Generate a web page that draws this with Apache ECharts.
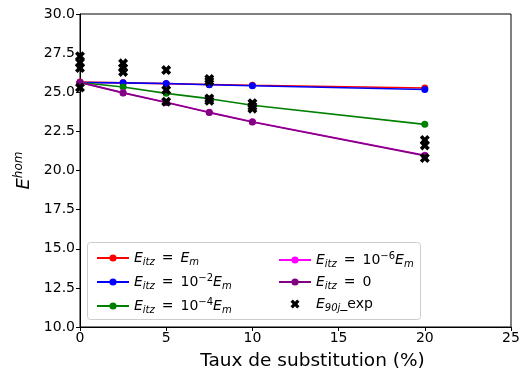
<!DOCTYPE html>
<html>
<head>
<meta charset="utf-8">
<script src="https://cdn.jsdelivr.net/npm/echarts@6/dist/echarts.min.js"></script>
<style>html,body{margin:0;padding:0;background:#fff}#c{width:523px;height:376px}</style>
</head>
<body>
<div id="c"></div>
<script>
const xs = [0, 2.5, 5, 7.5, 10, 20];
const redVals = [25.65, 25.6, 25.55, 25.5, 25.45, 25.27];
const blueVals = [25.62, 25.6, 25.56, 25.48, 25.42, 25.18];
const greenVals = [25.62, 25.34, 24.93, 24.59, 24.17, 22.95];
const magentaVals = [25.63, 24.97, 24.36, 23.72, 23.12, 20.98];
const purpleVals = [25.63, 24.96, 24.35, 23.7, 23.1, 20.95];
const expX = [0, 0, 0, 0, 2.5, 2.5, 2.5, 5, 5, 5, 7.5, 7.5, 7.5, 7.5, 10, 10, 10, 20, 20, 20];
const expY = [27.3, 26.9, 26.55, 25.3, 26.85, 26.55, 26.3, 26.42, 25.14, 24.4, 25.85, 25.7, 24.6, 24.45, 24.3, 24.1, 23.95, 21.95, 21.6, 20.8];
const xTicks = [0, 5, 10, 15, 20, 25];
const yTicks = [10, 12.5, 15, 17.5, 20, 22.5, 25, 27.5, 30];

const pair = (vals) => xs.map((x, i) => [x, vals[i]]);
const crossPath = 'path://M0,2.6 L2.6,0 L5,2.4 L7.4,0 L10,2.6 L7.6,5 L10,7.4 L7.4,10 L5,7.6 L2.6,10 L0,7.4 L2.4,5 Z';

const EQ = '\u2002=\u2002';
const labels = {
  Em: '{e|E}{sub|itz}{t|' + EQ + '}{e|E}{sub|m}',
  E2: '{e|E}{sub|itz}{t|' + EQ + '10}{sup|−2}{e|E}{sub|m}',
  E4: '{e|E}{sub|itz}{t|' + EQ + '10}{sup|−4}{e|E}{sub|m}',
  E6: '{e|E}{sub|itz}{t|' + EQ + '10}{sup|−6}{e|E}{sub|m}',
  E0: '{e|E}{sub|itz}{t|' + EQ + '0}',
  exp: '{e|E}{sub|90j}{t|_exp}'
};
const rich = {
  e: {fontStyle: 'italic', fontSize: 14, fontFamily: 'DejaVu Sans', color: '#000', lineHeight: 18, verticalAlign: 'middle'},
  t: {fontSize: 14, fontFamily: 'DejaVu Sans', color: '#000', lineHeight: 18, verticalAlign: 'middle'},
  sub: {fontStyle: 'italic', fontSize: 10, fontFamily: 'DejaVu Sans', color: '#000', verticalAlign: 'bottom', lineHeight: 10},
  sup: {fontSize: 10, fontFamily: 'DejaVu Sans', color: '#000', verticalAlign: 'top', lineHeight: 10}
};

function lineSeries(name, vals, color) {
  return {
    name, type: 'line', data: pair(vals), symbol: 'circle', symbolSize: 7,
    lineStyle: {color, width: 1.6}, itemStyle: {color}, animation: false, z: 2
  };
}

const chart = echarts.init(document.getElementById('c'));
chart.setOption({
  animation: false,
  grid: {left: 80, right: 12, top: 14, bottom: 49, show: true, borderColor: '#000', borderWidth: 1},
  xAxis: {
    type: 'value', min: 0, max: 25, interval: 5,
    name: 'Taux de substitution (%)', nameLocation: 'middle', nameGap: 25,
    nameTextStyle: {fontSize: 18.5, fontFamily: 'DejaVu Sans', color: '#000', padding: [0, 0, 0, 34]},
    axisLine: {show: true, lineStyle: {color: '#000', width: 1}},
    axisTick: {show: true, length: 4, lineStyle: {color: '#000'}},
    axisLabel: {fontSize: 14, fontFamily: 'DejaVu Sans', color: '#000', margin: 4,
      formatter: v => xTicks.includes(v) ? String(v) : ''},
    splitLine: {show: false}
  },
  yAxis: {
    type: 'value', min: 10, max: 30, interval: 2.5,
    name: '{e|E}{sup|hom}', nameLocation: 'middle', nameGap: 45, nameRotate: 90,
    nameTextStyle: {rich: {
      e: {fontStyle: 'italic', fontSize: 18, fontFamily: 'DejaVu Sans', color: '#000', lineHeight: 22, verticalAlign: 'middle'},
      sup: {fontStyle: 'italic', fontSize: 12, fontFamily: 'DejaVu Sans', color: '#000', lineHeight: 12, verticalAlign: 'top'}
    }},
    axisLine: {show: true, lineStyle: {color: '#000', width: 1}},
    axisTick: {show: true, length: 4, lineStyle: {color: '#000'}},
    axisLabel: {fontSize: 14, fontFamily: 'DejaVu Sans', color: '#000', margin: 5,
      formatter: v => yTicks.includes(v) ? v.toFixed(1) : ''},
    splitLine: {show: false}
  },
  graphic: [{
    type: 'rect', left: 87, top: 242, z: 3,
    shape: {width: 333, height: 77, r: 3},
    style: {fill: 'rgba(255,255,255,0.8)', stroke: '#cccccc', lineWidth: 1}
  }],
  legend: [
    {data: ['Em', 'E2', 'E4'], orient: 'vertical', left: 91, top: 246, itemWidth: 32, itemHeight: 9, itemGap: 6,
     formatter: n => labels[n], textStyle: {rich}, z: 5},
    {data: ['E6', 'E0', 'exp'], orient: 'vertical', left: 273, top: 246, itemWidth: 32, itemHeight: 9, itemGap: 6,
     formatter: n => labels[n], textStyle: {rich}, z: 5}
  ],
  series: [
    lineSeries('Em', redVals, '#ff0000'),
    lineSeries('E2', blueVals, '#0000ff'),
    lineSeries('E4', greenVals, '#008000'),
    lineSeries('E6', magentaVals, '#ff00ff'),
    lineSeries('E0', purpleVals, '#800080'),
    {name: 'exp', type: 'scatter', data: expX.map((x, i) => [x, expY[i]]), symbol: crossPath, symbolSize: 10,
     itemStyle: {color: '#000', opacity: 1}, z: 3}
  ]
});
</script>
</body>
</html>
